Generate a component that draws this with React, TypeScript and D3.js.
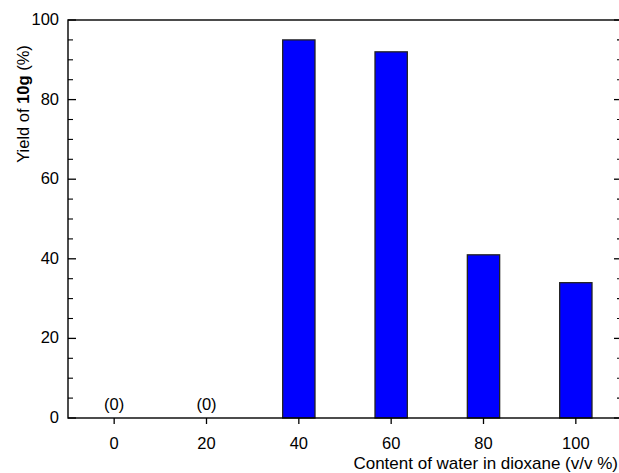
import React from "react";
import * as d3 from "d3";

const categories = [0, 20, 40, 60, 80, 100];
const yields = [0, 0, 95, 92, 41, 34];
const zeroLabels = ["(0)", "(0)", "", "", "", ""];
const yTicks = [0, 20, 40, 60, 80, 100];
const xTicks = [0, 20, 40, 60, 80, 100];

const W = 619;
const H = 473;
const M = { left: 68, right: 622, top: 20, bottom: 418 };
const FONT = "'Liberation Sans', Arial, sans-serif";
const FS = 16.5;

export default function App() {
  const x = d3.scaleLinear().domain([-10, 110]).range([M.left, M.right]);
  const y = d3.scaleLinear().domain([0, 100]).range([M.bottom, M.top]);
  const barW = x(7) - x(0);
  const minor = d3.range(0, 101, 5).filter((v) => v % 20 !== 0);

  return (
    <svg
      width={W}
      height={H}
      style={{ position: "absolute", left: 0, top: 0, background: "#fff" }}
      fontFamily={FONT}
    >
      {categories.map((c, i) =>
        yields[i] > 0 ? (
          <rect
            key={c}
            x={x(c) - barW / 2}
            y={y(yields[i])}
            width={barW}
            height={y(0) - y(yields[i])}
            fill="#0000ff"
            stroke="#222"
            strokeWidth={1.3}
          />
        ) : null
      )}
      {categories.map((c, i) =>
        zeroLabels[i] ? (
          <text key={"z" + c} x={x(c)} y={410} textAnchor="middle" fontSize={FS} fill="#000">
            {zeroLabels[i]}
          </text>
        ) : null
      )}
      <rect
        x={M.left}
        y={M.top}
        width={M.right - M.left}
        height={M.bottom - M.top}
        fill="none"
        stroke="#000"
        strokeWidth={1.4}
      />
      {yTicks.map((t) => (
        <g key={"y" + t}>
          <line x1={M.left} x2={M.left + 8} y1={y(t)} y2={y(t)} stroke="#000" strokeWidth={1.3} />
          <line x1={M.right} x2={M.right - 8} y1={y(t)} y2={y(t)} stroke="#000" strokeWidth={1.3} />
          <text x={59} y={y(t) + 5} textAnchor="end" fontSize={FS} fill="#000">
            {t}
          </text>
        </g>
      ))}
      {minor.map((t) => (
        <g key={"m" + t}>
          <line x1={M.left} x2={M.left + 5} y1={y(t)} y2={y(t)} stroke="#000" strokeWidth={1.1} />
          <line x1={M.right} x2={M.right - 5} y1={y(t)} y2={y(t)} stroke="#000" strokeWidth={1.1} />
        </g>
      ))}
      {xTicks.map((t) => (
        <g key={"x" + t}>
          <line x1={x(t)} x2={x(t)} y1={M.bottom} y2={M.bottom + 6} stroke="#000" strokeWidth={1.3} />
          <text x={x(t)} y={448.5} textAnchor="middle" fontSize={FS} fill="#000">
            {t}
          </text>
        </g>
      ))}
      <text x={618} y={469} textAnchor="end" fontSize={17} fill="#000">
        Content of water in dioxane (v/v %)
      </text>
      <text
        transform={`translate(29,104) rotate(-90)`}
        textAnchor="middle"
        fontSize={FS}
        fill="#000"
      >
        Yield of <tspan fontWeight="bold">10g</tspan> (%)
      </text>
    </svg>
  );
}
